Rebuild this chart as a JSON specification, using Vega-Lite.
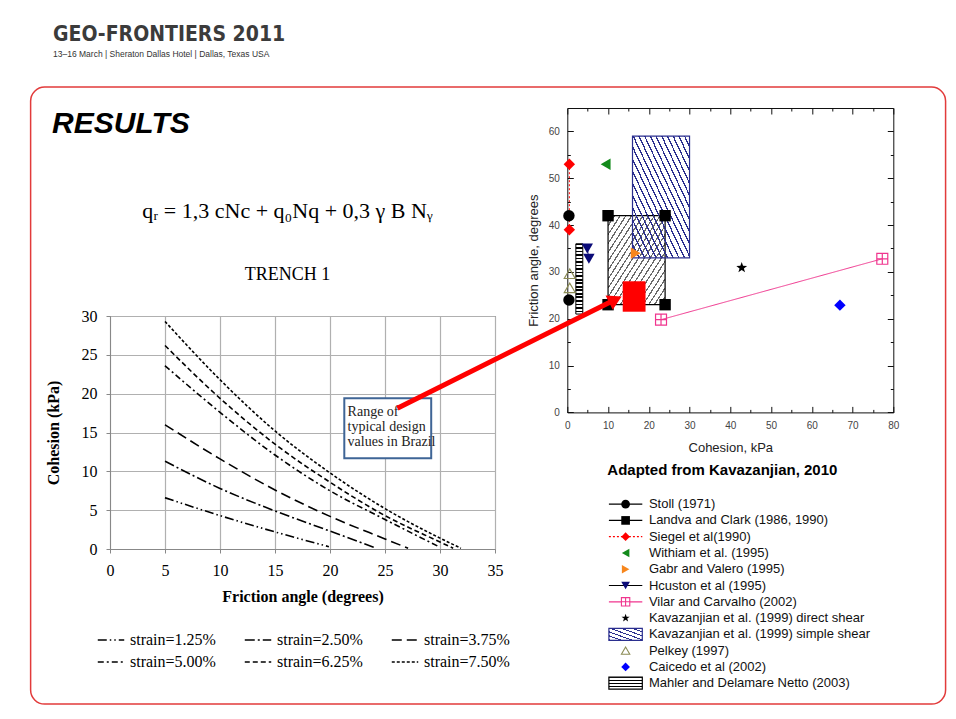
{
  "$schema": "https://vega.github.io/schema/vega-lite/v6.json",
  "background": "white",
  "padding": {"left": 29, "top": 24, "right": 5, "bottom": 5},
  "spacing": -481.7,
  "resolve": {"scale": {"color": "independent", "shape": "independent", "strokeDash": "independent", "fill": "independent", "stroke": "independent"}},
  "title": {
    "text": "GEO-FRONTIERS 2011",
    "subtitle": "13–16 March | Sheraton Dallas Hotel | Dallas, Texas USA",
    "anchor": "start", "frame": "group", "dx": -57, "offset": 27.3,
    "font": "DejaVu Sans Condensed, Liberation Sans", "fontSize": 21, "fontWeight": "bold", "color": "#3b3b3b",
    "subtitleFont": "Liberation Sans", "subtitleFontSize": 8.5, "subtitleColor": "#333333", "subtitlePadding": 5
  },
  "config": {"view": {"stroke": null}, "font": "Liberation Sans"},
  "datasets": {
    "curves": [
      {"strain": "strain=7.50%", "phi": 5, "c": 29.3},
      {"strain": "strain=7.50%", "phi": 10, "c": 21.8},
      {"strain": "strain=7.50%", "phi": 15, "c": 15.2},
      {"strain": "strain=7.50%", "phi": 20, "c": 9.8},
      {"strain": "strain=7.50%", "phi": 25, "c": 5.2},
      {"strain": "strain=7.50%", "phi": 30, "c": 1.4},
      {"strain": "strain=7.50%", "phi": 31.9, "c": 0.1},
      {"strain": "strain=6.25%", "phi": 5, "c": 26.2},
      {"strain": "strain=6.25%", "phi": 10, "c": 19.4},
      {"strain": "strain=6.25%", "phi": 15, "c": 13.5},
      {"strain": "strain=6.25%", "phi": 20, "c": 8.6},
      {"strain": "strain=6.25%", "phi": 25, "c": 4.3},
      {"strain": "strain=6.25%", "phi": 30, "c": 0.9},
      {"strain": "strain=6.25%", "phi": 31.2, "c": 0.1},
      {"strain": "strain=5.00%", "phi": 5, "c": 23.6},
      {"strain": "strain=5.00%", "phi": 10, "c": 17.6},
      {"strain": "strain=5.00%", "phi": 15, "c": 12.1},
      {"strain": "strain=5.00%", "phi": 20, "c": 7.5},
      {"strain": "strain=5.00%", "phi": 25, "c": 3.8},
      {"strain": "strain=5.00%", "phi": 29.9, "c": 0.3},
      {"strain": "strain=3.75%", "phi": 5, "c": 16.0},
      {"strain": "strain=3.75%", "phi": 10, "c": 11.6},
      {"strain": "strain=3.75%", "phi": 15, "c": 7.6},
      {"strain": "strain=3.75%", "phi": 20, "c": 4.2},
      {"strain": "strain=3.75%", "phi": 25, "c": 1.3},
      {"strain": "strain=3.75%", "phi": 27.1, "c": 0.1},
      {"strain": "strain=2.50%", "phi": 5, "c": 11.3},
      {"strain": "strain=2.50%", "phi": 10, "c": 7.8},
      {"strain": "strain=2.50%", "phi": 15, "c": 4.9},
      {"strain": "strain=2.50%", "phi": 20, "c": 2.3},
      {"strain": "strain=2.50%", "phi": 24.2, "c": 0.1},
      {"strain": "strain=1.25%", "phi": 5, "c": 6.6},
      {"strain": "strain=1.25%", "phi": 10, "c": 4.3},
      {"strain": "strain=1.25%", "phi": 15, "c": 2.2},
      {"strain": "strain=1.25%", "phi": 19.9, "c": 0.3}
    ],
    "pts": [
      {"series": "Stoll (1971)", "x": 0.4, "y": 42},
      {"series": "Stoll (1971)", "x": 0.4, "y": 24},
      {"series": "Landva and Clark (1986, 1990)", "x": 10, "y": 42},
      {"series": "Landva and Clark (1986, 1990)", "x": 24, "y": 42},
      {"series": "Landva and Clark (1986, 1990)", "x": 10, "y": 23},
      {"series": "Landva and Clark (1986, 1990)", "x": 24, "y": 23},
      {"series": "Siegel et al(1990)", "x": 0.5, "y": 53},
      {"series": "Siegel et al(1990)", "x": 0.5, "y": 39},
      {"series": "Withiam et al. (1995)", "x": 9.4, "y": 53},
      {"series": "Gabr and Valero (1995)", "x": 16.8, "y": 34},
      {"series": "Hcuston et al (1995)", "x": 4.9, "y": 35},
      {"series": "Hcuston et al (1995)", "x": 5.3, "y": 32.8},
      {"series": "Vilar and Carvalho (2002)", "x": 23, "y": 19.8},
      {"series": "Vilar and Carvalho (2002)", "x": 77.3, "y": 32.8},
      {"series": "Kavazanjian et al. (1999) direct shear", "x": 42.8, "y": 30.9},
      {"series": "Pelkey (1997)", "x": 0.6, "y": 29.6},
      {"series": "Pelkey (1997)", "x": 0.6, "y": 26.6},
      {"series": "Caicedo et al (2002)", "x": 66.9, "y": 22.9}
    ],
    "legend": [
      {"series": "Stoll (1971)"},
      {"series": "Landva and Clark (1986, 1990)"},
      {"series": "Siegel et al(1990)"},
      {"series": "Withiam et al. (1995)"},
      {"series": "Gabr and Valero (1995)"},
      {"series": "Hcuston et al (1995)"},
      {"series": "Vilar and Carvalho (2002)"},
      {"series": "Kavazanjian et al. (1999) direct shear"},
      {"series": "Kavazanjian et al. (1999) simple shear"},
      {"series": "Pelkey (1997)"},
      {"series": "Caicedo et al (2002)"},
      {"series": "Mahler and Delamare Netto (2003)"}
    ]
  },
  "hconcat": [
    {
      "bounds": "flush",
      "spacing": 207,
      "resolve": {"scale": {"color": "independent", "shape": "independent", "strokeDash": "independent", "fill": "independent", "stroke": "independent"}},
      "vconcat": [
        {
          "width": 385, "height": 1,
          "title": {"text": "RESULTS", "orient": "bottom", "anchor": "start", "frame": "group", "dx": -58, "offset": 0, "font": "Liberation Sans", "fontSize": 30, "fontWeight": "bold", "fontStyle": "italic", "color": "#000000"},
          "data": {"values": []},
          "mark": "point",
          "encoding": {}
        },
        {
          "width": 385, "height": 233,
          "view": {"stroke": "#555555", "strokeWidth": 1},
          "resolve": {"axis": {"x": "independent", "y": "independent"}},
          "title": {
            "text": "qᵣ = 1,3 cNc + q₀Nq + 0,3 γ B Nᵧ", "subtitle": "TRENCH 1",
            "anchor": "middle", "frame": "group", "dx": -15, "offset": 23,
            "font": "Liberation Serif", "fontSize": 22, "fontWeight": "normal", "color": "#000000",
            "subtitleFont": "Liberation Serif", "subtitleFontSize": 18, "subtitleColor": "#000000", "subtitlePadding": 43
          },
          "layer": [
            {
              "data": {"name": "curves"},
              "mark": {"type": "line", "color": "#000000", "strokeWidth": 1.6, "interpolate": "monotone"},
              "encoding": {
                "x": {"field": "phi", "type": "quantitative", "title": "Friction angle (degrees)",
                  "scale": {"domain": [0, 35], "nice": false},
                  "axis": {"values": [0, 5, 10, 15, 20, 25, 30, 35], "title": "Friction angle (degrees)", "titleFont": "Liberation Serif", "titleFontSize": 16, "titleFontWeight": "bold", "titleColor": "#000000", "titlePadding": 10, "labelFont": "Liberation Serif", "labelFontSize": 16, "labelColor": "#000000", "labelPadding": 9, "labelFlush": false, "labelOverlap": false, "tickSize": 4, "tickColor": "#888888", "domainColor": "#888888", "grid": true, "gridColor": "#b0b0b0", "gridWidth": 1.2}},
                "y": {"field": "c", "type": "quantitative", "title": "Cohesion (kPa)",
                  "scale": {"domain": [0, 30], "nice": false},
                  "axis": {"values": [0, 5, 10, 15, 20, 25, 30], "title": "Cohesion (kPa)", "titleFont": "Liberation Serif", "titleFontSize": 16, "titleFontWeight": "bold", "titleColor": "#000000", "titlePadding": 20, "labelFont": "Liberation Serif", "labelFontSize": 16, "labelColor": "#000000", "labelPadding": 9, "labelFlush": false, "labelOverlap": false, "tickSize": 4, "tickColor": "#888888", "domainColor": "#888888", "grid": true, "gridColor": "#b0b0b0", "gridWidth": 1.2}},
                "strokeDash": {"field": "strain", "type": "nominal",
                  "scale": {"domain": ["strain=1.25%", "strain=2.50%", "strain=3.75%", "strain=5.00%", "strain=6.25%", "strain=7.50%"],
                    "range": [[9, 3, 1.5, 3, 1.5, 3], [10, 3, 2, 3], [10, 5], [6, 3, 2, 3], [5, 3], [3, 2]]},
                  "legend": {"orient": "none", "legendX": -13, "legendY": 310, "direction": "horizontal", "columns": 3, "title": null, "symbolType": "stroke", "symbolSize": 700, "symbolStrokeWidth": 1.5, "symbolStrokeColor": "#000000", "labelFont": "Liberation Serif", "labelFontSize": 16, "labelColor": "#000000", "labelOffset": 5, "columnPadding": 25, "rowPadding": 0}}
              }
            },
            {
              "data": {"values": [{"label": "Range of typical design values in Brazil", "x": 21.3, "x2": 29.2, "y": 19.4, "y2": 11.7}]},
              "mark": {"type": "rect", "fill": "#ffffff", "stroke": "#3f6596", "strokeWidth": 2},
              "encoding": {
                "x": {"field": "x", "type": "quantitative", "axis": null},
                "x2": {"field": "x2"},
                "y": {"field": "y", "type": "quantitative", "axis": null},
                "y2": {"field": "y2"}
              }
            },
            {
              "data": {"values": [{"label": "Range of\ntypical design\nvalues in Brazil", "x": 21.6, "y": 18.5}]},
              "mark": {"type": "text", "align": "left", "baseline": "top", "lineBreak": "\n", "font": "Liberation Serif", "fontSize": 14, "lineHeight": 15, "color": "#222222"},
              "encoding": {
                "x": {"field": "x", "type": "quantitative", "axis": null},
                "y": {"field": "y", "type": "quantitative", "axis": null},
                "text": {"field": "label"}
              }
            }
          ]
        }
      ]
    },
    {
      "bounds": "flush",
      "spacing": 83,
      "resolve": {"scale": {"color": "independent", "shape": "independent", "strokeDash": "independent", "fill": "independent", "stroke": "independent"}},
      "vconcat": [
        {
          "width": 326, "height": 304.4,
          "view": {"stroke": "#111111", "strokeWidth": 1},
          "resolve": {"axis": {"x": "independent", "y": "independent"}},
          "layer": [
            {
              "data": {"values": [{"label": "slide frame", "x": -131.7, "x2": 92.83, "y": 69.46, "y2": -62.29}]},
              "mark": {"type": "rect", "fill": null, "stroke": "#e23b3b", "strokeWidth": 1.5, "cornerRadius": 14},
              "encoding": {
                "x": {"field": "x", "type": "quantitative", "scale": {"domain": [0, 80], "nice": false},
                  "axis": {"orient": "top", "values": [0, 5, 10, 15, 20, 25, 30, 35, 40, 45, 50, 55, 60, 65, 70, 75, 80], "labels": false, "domain": false, "grid": false, "tickSize": {"condition": {"test": "datum.value % 10 === 0", "value": -6}, "value": -3}, "tickColor": "#111111", "title": null}},
                "x2": {"field": "x2"},
                "y": {"field": "y", "type": "quantitative", "scale": {"domain": [0, 65], "nice": false},
                  "axis": {"orient": "right", "values": [0, 5, 10, 15, 20, 25, 30, 35, 40, 45, 50, 55, 60], "labels": false, "domain": false, "grid": false, "tickSize": {"condition": {"test": "datum.value % 10 === 0", "value": -6}, "value": -3}, "tickColor": "#111111", "title": null}},
                "y2": {"field": "y2"}
              }
            },
            {
              "data": {"values": [{"series": "Landva and Clark (1986, 1990)", "x": 10, "x2": 24, "y": 23, "y2": 42}]},
              "mark": {"type": "rect", "stroke": "#000000", "strokeWidth": 1.2, "fill": {"gradient": "linear", "x1": 0, "y1": 0, "x2": 1, "y2": 1, "stops": [
                {"offset": 0, "color": "#6a6a6a"}, {"offset": 0.0125, "color": "#6a6a6a"}, {"offset": 0.0125, "color": "rgba(255,255,255,0)"}, {"offset": 0.05, "color": "rgba(255,255,255,0)"},
                {"offset": 0.05, "color": "#6a6a6a"}, {"offset": 0.0625, "color": "#6a6a6a"}, {"offset": 0.0625, "color": "rgba(255,255,255,0)"}, {"offset": 0.1, "color": "rgba(255,255,255,0)"},
                {"offset": 0.1, "color": "#6a6a6a"}, {"offset": 0.1125, "color": "#6a6a6a"}, {"offset": 0.1125, "color": "rgba(255,255,255,0)"}, {"offset": 0.15, "color": "rgba(255,255,255,0)"},
                {"offset": 0.15, "color": "#6a6a6a"}, {"offset": 0.1625, "color": "#6a6a6a"}, {"offset": 0.1625, "color": "rgba(255,255,255,0)"}, {"offset": 0.2, "color": "rgba(255,255,255,0)"},
                {"offset": 0.2, "color": "#6a6a6a"}, {"offset": 0.2125, "color": "#6a6a6a"}, {"offset": 0.2125, "color": "rgba(255,255,255,0)"}, {"offset": 0.25, "color": "rgba(255,255,255,0)"},
                {"offset": 0.25, "color": "#6a6a6a"}, {"offset": 0.2625, "color": "#6a6a6a"}, {"offset": 0.2625, "color": "rgba(255,255,255,0)"}, {"offset": 0.3, "color": "rgba(255,255,255,0)"},
                {"offset": 0.3, "color": "#6a6a6a"}, {"offset": 0.3125, "color": "#6a6a6a"}, {"offset": 0.3125, "color": "rgba(255,255,255,0)"}, {"offset": 0.35, "color": "rgba(255,255,255,0)"},
                {"offset": 0.35, "color": "#6a6a6a"}, {"offset": 0.3625, "color": "#6a6a6a"}, {"offset": 0.3625, "color": "rgba(255,255,255,0)"}, {"offset": 0.4, "color": "rgba(255,255,255,0)"},
                {"offset": 0.4, "color": "#6a6a6a"}, {"offset": 0.4125, "color": "#6a6a6a"}, {"offset": 0.4125, "color": "rgba(255,255,255,0)"}, {"offset": 0.45, "color": "rgba(255,255,255,0)"},
                {"offset": 0.45, "color": "#6a6a6a"}, {"offset": 0.4625, "color": "#6a6a6a"}, {"offset": 0.4625, "color": "rgba(255,255,255,0)"}, {"offset": 0.5, "color": "rgba(255,255,255,0)"},
                {"offset": 0.5, "color": "#6a6a6a"}, {"offset": 0.5125, "color": "#6a6a6a"}, {"offset": 0.5125, "color": "rgba(255,255,255,0)"}, {"offset": 0.55, "color": "rgba(255,255,255,0)"},
                {"offset": 0.55, "color": "#6a6a6a"}, {"offset": 0.5625, "color": "#6a6a6a"}, {"offset": 0.5625, "color": "rgba(255,255,255,0)"}, {"offset": 0.6, "color": "rgba(255,255,255,0)"},
                {"offset": 0.6, "color": "#6a6a6a"}, {"offset": 0.6125, "color": "#6a6a6a"}, {"offset": 0.6125, "color": "rgba(255,255,255,0)"}, {"offset": 0.65, "color": "rgba(255,255,255,0)"},
                {"offset": 0.65, "color": "#6a6a6a"}, {"offset": 0.6625, "color": "#6a6a6a"}, {"offset": 0.6625, "color": "rgba(255,255,255,0)"}, {"offset": 0.7, "color": "rgba(255,255,255,0)"},
                {"offset": 0.7, "color": "#6a6a6a"}, {"offset": 0.7125, "color": "#6a6a6a"}, {"offset": 0.7125, "color": "rgba(255,255,255,0)"}, {"offset": 0.75, "color": "rgba(255,255,255,0)"},
                {"offset": 0.75, "color": "#6a6a6a"}, {"offset": 0.7625, "color": "#6a6a6a"}, {"offset": 0.7625, "color": "rgba(255,255,255,0)"}, {"offset": 0.8, "color": "rgba(255,255,255,0)"},
                {"offset": 0.8, "color": "#6a6a6a"}, {"offset": 0.8125, "color": "#6a6a6a"}, {"offset": 0.8125, "color": "rgba(255,255,255,0)"}, {"offset": 0.85, "color": "rgba(255,255,255,0)"},
                {"offset": 0.85, "color": "#6a6a6a"}, {"offset": 0.8625, "color": "#6a6a6a"}, {"offset": 0.8625, "color": "rgba(255,255,255,0)"}, {"offset": 0.9, "color": "rgba(255,255,255,0)"},
                {"offset": 0.9, "color": "#6a6a6a"}, {"offset": 0.9125, "color": "#6a6a6a"}, {"offset": 0.9125, "color": "rgba(255,255,255,0)"}, {"offset": 0.95, "color": "rgba(255,255,255,0)"},
                {"offset": 0.95, "color": "#6a6a6a"}, {"offset": 0.9625, "color": "#6a6a6a"}, {"offset": 0.9625, "color": "rgba(255,255,255,0)"}, {"offset": 1, "color": "rgba(255,255,255,0)"}
              ]}},
              "encoding": {
                "x": {"field": "x", "type": "quantitative", "axis": null},
                "x2": {"field": "x2"},
                "y": {"field": "y", "type": "quantitative", "axis": null},
                "y2": {"field": "y2"}
              }
            },
            {
              "data": {"values": [{"series": "Kavazanjian et al. (1999) simple shear", "x": 16, "x2": 30, "y": 33, "y2": 59}]},
              "mark": {"type": "rect", "stroke": "#2b2f8f", "strokeWidth": 1.2, "fill": {"gradient": "linear", "x1": 0, "y1": 1, "x2": 1, "y2": 0, "stops": [
                {"offset": 0, "color": "#2b2f8f"}, {"offset": 0.0125, "color": "#2b2f8f"}, {"offset": 0.0125, "color": "rgba(255,255,255,0)"}, {"offset": 0.05, "color": "rgba(255,255,255,0)"},
                {"offset": 0.05, "color": "#2b2f8f"}, {"offset": 0.0625, "color": "#2b2f8f"}, {"offset": 0.0625, "color": "rgba(255,255,255,0)"}, {"offset": 0.1, "color": "rgba(255,255,255,0)"},
                {"offset": 0.1, "color": "#2b2f8f"}, {"offset": 0.1125, "color": "#2b2f8f"}, {"offset": 0.1125, "color": "rgba(255,255,255,0)"}, {"offset": 0.15, "color": "rgba(255,255,255,0)"},
                {"offset": 0.15, "color": "#2b2f8f"}, {"offset": 0.1625, "color": "#2b2f8f"}, {"offset": 0.1625, "color": "rgba(255,255,255,0)"}, {"offset": 0.2, "color": "rgba(255,255,255,0)"},
                {"offset": 0.2, "color": "#2b2f8f"}, {"offset": 0.2125, "color": "#2b2f8f"}, {"offset": 0.2125, "color": "rgba(255,255,255,0)"}, {"offset": 0.25, "color": "rgba(255,255,255,0)"},
                {"offset": 0.25, "color": "#2b2f8f"}, {"offset": 0.2625, "color": "#2b2f8f"}, {"offset": 0.2625, "color": "rgba(255,255,255,0)"}, {"offset": 0.3, "color": "rgba(255,255,255,0)"},
                {"offset": 0.3, "color": "#2b2f8f"}, {"offset": 0.3125, "color": "#2b2f8f"}, {"offset": 0.3125, "color": "rgba(255,255,255,0)"}, {"offset": 0.35, "color": "rgba(255,255,255,0)"},
                {"offset": 0.35, "color": "#2b2f8f"}, {"offset": 0.3625, "color": "#2b2f8f"}, {"offset": 0.3625, "color": "rgba(255,255,255,0)"}, {"offset": 0.4, "color": "rgba(255,255,255,0)"},
                {"offset": 0.4, "color": "#2b2f8f"}, {"offset": 0.4125, "color": "#2b2f8f"}, {"offset": 0.4125, "color": "rgba(255,255,255,0)"}, {"offset": 0.45, "color": "rgba(255,255,255,0)"},
                {"offset": 0.45, "color": "#2b2f8f"}, {"offset": 0.4625, "color": "#2b2f8f"}, {"offset": 0.4625, "color": "rgba(255,255,255,0)"}, {"offset": 0.5, "color": "rgba(255,255,255,0)"},
                {"offset": 0.5, "color": "#2b2f8f"}, {"offset": 0.5125, "color": "#2b2f8f"}, {"offset": 0.5125, "color": "rgba(255,255,255,0)"}, {"offset": 0.55, "color": "rgba(255,255,255,0)"},
                {"offset": 0.55, "color": "#2b2f8f"}, {"offset": 0.5625, "color": "#2b2f8f"}, {"offset": 0.5625, "color": "rgba(255,255,255,0)"}, {"offset": 0.6, "color": "rgba(255,255,255,0)"},
                {"offset": 0.6, "color": "#2b2f8f"}, {"offset": 0.6125, "color": "#2b2f8f"}, {"offset": 0.6125, "color": "rgba(255,255,255,0)"}, {"offset": 0.65, "color": "rgba(255,255,255,0)"},
                {"offset": 0.65, "color": "#2b2f8f"}, {"offset": 0.6625, "color": "#2b2f8f"}, {"offset": 0.6625, "color": "rgba(255,255,255,0)"}, {"offset": 0.7, "color": "rgba(255,255,255,0)"},
                {"offset": 0.7, "color": "#2b2f8f"}, {"offset": 0.7125, "color": "#2b2f8f"}, {"offset": 0.7125, "color": "rgba(255,255,255,0)"}, {"offset": 0.75, "color": "rgba(255,255,255,0)"},
                {"offset": 0.75, "color": "#2b2f8f"}, {"offset": 0.7625, "color": "#2b2f8f"}, {"offset": 0.7625, "color": "rgba(255,255,255,0)"}, {"offset": 0.8, "color": "rgba(255,255,255,0)"},
                {"offset": 0.8, "color": "#2b2f8f"}, {"offset": 0.8125, "color": "#2b2f8f"}, {"offset": 0.8125, "color": "rgba(255,255,255,0)"}, {"offset": 0.85, "color": "rgba(255,255,255,0)"},
                {"offset": 0.85, "color": "#2b2f8f"}, {"offset": 0.8625, "color": "#2b2f8f"}, {"offset": 0.8625, "color": "rgba(255,255,255,0)"}, {"offset": 0.9, "color": "rgba(255,255,255,0)"},
                {"offset": 0.9, "color": "#2b2f8f"}, {"offset": 0.9125, "color": "#2b2f8f"}, {"offset": 0.9125, "color": "rgba(255,255,255,0)"}, {"offset": 0.95, "color": "rgba(255,255,255,0)"},
                {"offset": 0.95, "color": "#2b2f8f"}, {"offset": 0.9625, "color": "#2b2f8f"}, {"offset": 0.9625, "color": "rgba(255,255,255,0)"}, {"offset": 1, "color": "rgba(255,255,255,0)"}
              ]}},
              "encoding": {
                "x": {"field": "x", "type": "quantitative", "axis": null},
                "x2": {"field": "x2"},
                "y": {"field": "y", "type": "quantitative", "axis": null},
                "y2": {"field": "y2"}
              }
            },
            {
              "data": {"values": [{"series": "Mahler and Delamare Netto (2003)", "x": 2.1, "x2": 3.8, "y": 21, "y2": 36}]},
              "mark": {"type": "rect", "stroke": "#000000", "strokeWidth": 1, "fill": {"gradient": "linear", "x1": 0, "y1": 0, "x2": 0, "y2": 1, "stops": [
                {"offset": 0, "color": "#000000"}, {"offset": 0.0225, "color": "#000000"}, {"offset": 0.0225, "color": "#ffffff"}, {"offset": 0.05, "color": "#ffffff"},
                {"offset": 0.05, "color": "#000000"}, {"offset": 0.0725, "color": "#000000"}, {"offset": 0.0725, "color": "#ffffff"}, {"offset": 0.1, "color": "#ffffff"},
                {"offset": 0.1, "color": "#000000"}, {"offset": 0.1225, "color": "#000000"}, {"offset": 0.1225, "color": "#ffffff"}, {"offset": 0.15, "color": "#ffffff"},
                {"offset": 0.15, "color": "#000000"}, {"offset": 0.1725, "color": "#000000"}, {"offset": 0.1725, "color": "#ffffff"}, {"offset": 0.2, "color": "#ffffff"},
                {"offset": 0.2, "color": "#000000"}, {"offset": 0.2225, "color": "#000000"}, {"offset": 0.2225, "color": "#ffffff"}, {"offset": 0.25, "color": "#ffffff"},
                {"offset": 0.25, "color": "#000000"}, {"offset": 0.2725, "color": "#000000"}, {"offset": 0.2725, "color": "#ffffff"}, {"offset": 0.3, "color": "#ffffff"},
                {"offset": 0.3, "color": "#000000"}, {"offset": 0.3225, "color": "#000000"}, {"offset": 0.3225, "color": "#ffffff"}, {"offset": 0.35, "color": "#ffffff"},
                {"offset": 0.35, "color": "#000000"}, {"offset": 0.3725, "color": "#000000"}, {"offset": 0.3725, "color": "#ffffff"}, {"offset": 0.4, "color": "#ffffff"},
                {"offset": 0.4, "color": "#000000"}, {"offset": 0.4225, "color": "#000000"}, {"offset": 0.4225, "color": "#ffffff"}, {"offset": 0.45, "color": "#ffffff"},
                {"offset": 0.45, "color": "#000000"}, {"offset": 0.4725, "color": "#000000"}, {"offset": 0.4725, "color": "#ffffff"}, {"offset": 0.5, "color": "#ffffff"},
                {"offset": 0.5, "color": "#000000"}, {"offset": 0.5225, "color": "#000000"}, {"offset": 0.5225, "color": "#ffffff"}, {"offset": 0.55, "color": "#ffffff"},
                {"offset": 0.55, "color": "#000000"}, {"offset": 0.5725, "color": "#000000"}, {"offset": 0.5725, "color": "#ffffff"}, {"offset": 0.6, "color": "#ffffff"},
                {"offset": 0.6, "color": "#000000"}, {"offset": 0.6225, "color": "#000000"}, {"offset": 0.6225, "color": "#ffffff"}, {"offset": 0.65, "color": "#ffffff"},
                {"offset": 0.65, "color": "#000000"}, {"offset": 0.6725, "color": "#000000"}, {"offset": 0.6725, "color": "#ffffff"}, {"offset": 0.7, "color": "#ffffff"},
                {"offset": 0.7, "color": "#000000"}, {"offset": 0.7225, "color": "#000000"}, {"offset": 0.7225, "color": "#ffffff"}, {"offset": 0.75, "color": "#ffffff"},
                {"offset": 0.75, "color": "#000000"}, {"offset": 0.7725, "color": "#000000"}, {"offset": 0.7725, "color": "#ffffff"}, {"offset": 0.8, "color": "#ffffff"},
                {"offset": 0.8, "color": "#000000"}, {"offset": 0.8225, "color": "#000000"}, {"offset": 0.8225, "color": "#ffffff"}, {"offset": 0.85, "color": "#ffffff"},
                {"offset": 0.85, "color": "#000000"}, {"offset": 0.8725, "color": "#000000"}, {"offset": 0.8725, "color": "#ffffff"}, {"offset": 0.9, "color": "#ffffff"},
                {"offset": 0.9, "color": "#000000"}, {"offset": 0.9225, "color": "#000000"}, {"offset": 0.9225, "color": "#ffffff"}, {"offset": 0.95, "color": "#ffffff"},
                {"offset": 0.95, "color": "#000000"}, {"offset": 0.9725, "color": "#000000"}, {"offset": 0.9725, "color": "#ffffff"}, {"offset": 1, "color": "#ffffff"}
              ]}},
              "encoding": {
                "x": {"field": "x", "type": "quantitative", "axis": null},
                "x2": {"field": "x2"},
                "y": {"field": "y", "type": "quantitative", "axis": null},
                "y2": {"field": "y2"}
              }
            },
            {
              "data": {"name": "pts"},
              "transform": [{"filter": {"field": "series", "oneOf": ["Siegel et al(1990)", "Hcuston et al (1995)", "Vilar and Carvalho (2002)"]}}],
              "mark": {"type": "line", "strokeWidth": 1},
              "encoding": {
                "x": {"field": "x", "type": "quantitative", "axis": null},
                "y": {"field": "y", "type": "quantitative", "axis": null},
                "color": {"field": "series", "type": "nominal", "legend": null,
                  "scale": {"domain": ["Stoll (1971)", "Landva and Clark (1986, 1990)", "Siegel et al(1990)", "Withiam et al. (1995)", "Gabr and Valero (1995)", "Hcuston et al (1995)", "Vilar and Carvalho (2002)", "Kavazanjian et al. (1999) direct shear", "Kavazanjian et al. (1999) simple shear", "Pelkey (1997)", "Caicedo et al (2002)", "Mahler and Delamare Netto (2003)"],
                    "range": ["#000000", "#000000", "#ff0000", "#138a1b", "#f7861c", "#0b0b78", "#f0358e", "#000000", "#2b2f8f", "#8c8c55", "#0000ff", "#000000"]}},
                "strokeDash": {"field": "series", "type": "nominal", "legend": null,
                  "scale": {"domain": ["Siegel et al(1990)", "Hcuston et al (1995)", "Vilar and Carvalho (2002)"], "range": [[2, 2], [1, 0], [1, 0]]}}
              }
            },
            {
              "data": {"name": "pts"},
              "transform": [{"filter": {"field": "series", "oneOf": ["Stoll (1971)", "Landva and Clark (1986, 1990)", "Siegel et al(1990)", "Withiam et al. (1995)", "Gabr and Valero (1995)", "Hcuston et al (1995)", "Kavazanjian et al. (1999) direct shear", "Caicedo et al (2002)"]}}],
              "mark": {"type": "point", "filled": true, "size": 130, "opacity": 1, "strokeWidth": 0},
              "encoding": {
                "x": {"field": "x", "type": "quantitative", "scale": {"domain": [0, 80], "nice": false},
                  "axis": {"orient": "bottom", "values": [0, 5, 10, 15, 20, 25, 30, 35, 40, 45, 50, 55, 60, 65, 70, 75, 80], "labelExpr": "datum.value % 10 === 0 ? datum.label : ''", "domain": false, "grid": false, "tickSize": {"condition": {"test": "datum.value % 10 === 0", "value": -6}, "value": -3}, "tickColor": "#111111", "labelFont": "Liberation Sans", "labelFontSize": 10, "labelColor": "#444444", "labelPadding": 14, "labelFlush": false, "labelOverlap": false, "title": "Cohesion, kPa", "titleFont": "Liberation Sans", "titleFontSize": 13, "titleFontWeight": "normal", "titleColor": "#222222", "titlePadding": 8}},
                "y": {"field": "y", "type": "quantitative", "scale": {"domain": [0, 65], "nice": false},
                  "axis": {"orient": "left", "values": [0, 5, 10, 15, 20, 25, 30, 35, 40, 45, 50, 55, 60], "labelExpr": "datum.value % 10 === 0 ? datum.label : ''", "domain": false, "grid": false, "tickSize": {"condition": {"test": "datum.value % 10 === 0", "value": -6}, "value": -3}, "tickColor": "#111111", "labelFont": "Liberation Sans", "labelFontSize": 10, "labelColor": "#444444", "labelPadding": 14, "labelFlush": false, "labelOverlap": false, "title": "Friction angle, degrees", "titleFont": "Liberation Sans", "titleFontSize": 13, "titleFontWeight": "normal", "titleColor": "#222222", "titlePadding": 8}},
                "color": {"field": "series", "type": "nominal", "legend": null},
                "shape": {"field": "series", "type": "nominal", "legend": null,
                  "scale": {"domain": ["Stoll (1971)", "Landva and Clark (1986, 1990)", "Siegel et al(1990)", "Withiam et al. (1995)", "Gabr and Valero (1995)", "Hcuston et al (1995)", "Vilar and Carvalho (2002)", "Kavazanjian et al. (1999) direct shear", "Kavazanjian et al. (1999) simple shear", "Pelkey (1997)", "Caicedo et al (2002)", "Mahler and Delamare Netto (2003)"],
                    "range": ["circle", "square", "diamond", "triangle-left", "triangle-right", "triangle-down", "M-1,-1L1,-1L1,1L-1,1Z M0,-1L0,1 M-1,0L1,0", "M0,-1L0.235,-0.324L0.951,-0.309L0.38,0.124L0.588,0.809L0,0.4L-0.588,0.809L-0.38,0.124L-0.951,-0.309L-0.235,-0.324Z", "square", "triangle-up", "diamond", "square"]}}
              }
            },
            {
              "data": {"name": "pts"},
              "transform": [{"filter": {"field": "series", "oneOf": ["Vilar and Carvalho (2002)", "Pelkey (1997)"]}}],
              "mark": {"type": "point", "filled": false, "size": 120, "opacity": 1, "strokeWidth": 1.2},
              "encoding": {
                "x": {"field": "x", "type": "quantitative", "axis": null},
                "y": {"field": "y", "type": "quantitative", "axis": null},
                "color": {"field": "series", "type": "nominal", "legend": null},
                "shape": {"field": "series", "type": "nominal", "legend": null}
              }
            },
            {
              "data": {"values": [{"label": "Range of typical design values in Brazil", "x": 13.6, "x2": 19.2, "y": 21.5, "y2": 28}]},
              "mark": {"type": "rect", "fill": "#ff0000"},
              "encoding": {
                "x": {"field": "x", "type": "quantitative", "axis": null},
                "x2": {"field": "x2"},
                "y": {"field": "y", "type": "quantitative", "axis": null},
                "y2": {"field": "y2"}
              }
            },
            {
              "data": {"values": [{"x": -41.7, "y": 0.9, "x2": 11.8, "y2": 24.1}]},
              "mark": {"type": "rule", "color": "#ff0000", "strokeWidth": 5},
              "encoding": {
                "x": {"field": "x", "type": "quantitative", "axis": null},
                "x2": {"field": "x2"},
                "y": {"field": "y", "type": "quantitative", "axis": null},
                "y2": {"field": "y2"}
              }
            },
            {
              "data": {"values": [{"x": 11.8, "y": 24.1}]},
              "mark": {"type": "point", "shape": "triangle-right", "filled": true, "color": "#ff0000", "size": 260, "angle": 333.4, "opacity": 1},
              "encoding": {
                "x": {"field": "x", "type": "quantitative", "axis": null},
                "y": {"field": "y", "type": "quantitative", "axis": null}
              }
            }
          ]
        },
        {
          "width": 300, "height": 195.3,
          "view": {"stroke": null},
          "title": {"text": "Adapted from Kavazanjian, 2010", "anchor": "start", "frame": "group", "dx": 40, "offset": 18, "font": "Liberation Sans", "fontSize": 15, "fontWeight": "bold", "color": "#000000"},
          "data": {"name": "legend"},
          "encoding": {
            "y": {"field": "series", "type": "nominal", "axis": null,
              "sort": ["Stoll (1971)", "Landva and Clark (1986, 1990)", "Siegel et al(1990)", "Withiam et al. (1995)", "Gabr and Valero (1995)", "Hcuston et al (1995)", "Vilar and Carvalho (2002)", "Kavazanjian et al. (1999) direct shear", "Kavazanjian et al. (1999) simple shear", "Pelkey (1997)", "Caicedo et al (2002)", "Mahler and Delamare Netto (2003)"],
              "scale": {"type": "band", "paddingInner": 0, "paddingOuter": 0}}
          },
          "layer": [
            {
              "transform": [{"filter": {"field": "series", "oneOf": ["Stoll (1971)", "Landva and Clark (1986, 1990)", "Siegel et al(1990)", "Hcuston et al (1995)", "Vilar and Carvalho (2002)"]}}],
              "mark": {"type": "rule", "strokeWidth": 1.2},
              "encoding": {
                "x": {"datum": 41.6, "type": "quantitative", "scale": {"domain": [0, 300], "nice": false}, "axis": null},
                "x2": {"datum": 75},
                "color": {"field": "series", "type": "nominal", "legend": null,
                  "scale": {"domain": ["Stoll (1971)", "Landva and Clark (1986, 1990)", "Siegel et al(1990)", "Withiam et al. (1995)", "Gabr and Valero (1995)", "Hcuston et al (1995)", "Vilar and Carvalho (2002)", "Kavazanjian et al. (1999) direct shear", "Kavazanjian et al. (1999) simple shear", "Pelkey (1997)", "Caicedo et al (2002)", "Mahler and Delamare Netto (2003)"],
                    "range": ["#000000", "#000000", "#ff0000", "#138a1b", "#f7861c", "#000000", "#f0358e", "#000000", "#2b2f8f", "#8c8c55", "#0000ff", "#000000"]}},
                "strokeDash": {"field": "series", "type": "nominal", "legend": null,
                  "scale": {"domain": ["Stoll (1971)", "Landva and Clark (1986, 1990)", "Siegel et al(1990)", "Hcuston et al (1995)", "Vilar and Carvalho (2002)"], "range": [[1, 0], [1, 0], [2, 2], [1, 0], [1, 0]]}}
              }
            },
            {
              "transform": [{"filter": {"field": "series", "equal": "Kavazanjian et al. (1999) simple shear"}}],
              "mark": {"type": "bar", "size": 12, "stroke": "#2b2f8f", "strokeWidth": 1.2, "fill": {"gradient": "linear", "x1": 0, "y1": 1, "x2": 1, "y2": 0, "stops": [
                {"offset": 0, "color": "#2b2f8f"}, {"offset": 0.045, "color": "#2b2f8f"}, {"offset": 0.045, "color": "#ffffff"}, {"offset": 0.1667, "color": "#ffffff"},
                {"offset": 0.1667, "color": "#2b2f8f"}, {"offset": 0.2117, "color": "#2b2f8f"}, {"offset": 0.2117, "color": "#ffffff"}, {"offset": 0.3333, "color": "#ffffff"},
                {"offset": 0.3333, "color": "#2b2f8f"}, {"offset": 0.3783, "color": "#2b2f8f"}, {"offset": 0.3783, "color": "#ffffff"}, {"offset": 0.5, "color": "#ffffff"},
                {"offset": 0.5, "color": "#2b2f8f"}, {"offset": 0.545, "color": "#2b2f8f"}, {"offset": 0.545, "color": "#ffffff"}, {"offset": 0.6667, "color": "#ffffff"},
                {"offset": 0.6667, "color": "#2b2f8f"}, {"offset": 0.7117, "color": "#2b2f8f"}, {"offset": 0.7117, "color": "#ffffff"}, {"offset": 0.8333, "color": "#ffffff"},
                {"offset": 0.8333, "color": "#2b2f8f"}, {"offset": 0.8783, "color": "#2b2f8f"}, {"offset": 0.8783, "color": "#ffffff"}, {"offset": 1, "color": "#ffffff"}
              ]}},
              "encoding": {
                "x": {"datum": 41.6, "type": "quantitative"},
                "x2": {"datum": 75}
              }
            },
            {
              "transform": [{"filter": {"field": "series", "equal": "Mahler and Delamare Netto (2003)"}}],
              "mark": {"type": "bar", "size": 12, "stroke": "#000000", "strokeWidth": 1.2, "fill": {"gradient": "linear", "x1": 0, "y1": 0, "x2": 0, "y2": 1, "stops": [
                {"offset": 0, "color": "#000000"}, {"offset": 0.075, "color": "#000000"}, {"offset": 0.075, "color": "#ffffff"}, {"offset": 0.25, "color": "#ffffff"},
                {"offset": 0.25, "color": "#000000"}, {"offset": 0.325, "color": "#000000"}, {"offset": 0.325, "color": "#ffffff"}, {"offset": 0.5, "color": "#ffffff"},
                {"offset": 0.5, "color": "#000000"}, {"offset": 0.575, "color": "#000000"}, {"offset": 0.575, "color": "#ffffff"}, {"offset": 0.75, "color": "#ffffff"},
                {"offset": 0.75, "color": "#000000"}, {"offset": 0.825, "color": "#000000"}, {"offset": 0.825, "color": "#ffffff"}, {"offset": 1, "color": "#ffffff"}
              ]}},
              "encoding": {
                "x": {"datum": 41.6, "type": "quantitative"},
                "x2": {"datum": 75}
              }
            },
            {
              "transform": [{"filter": {"field": "series", "oneOf": ["Stoll (1971)", "Landva and Clark (1986, 1990)", "Siegel et al(1990)", "Withiam et al. (1995)", "Gabr and Valero (1995)", "Hcuston et al (1995)", "Kavazanjian et al. (1999) direct shear", "Caicedo et al (2002)"]}}],
              "mark": {"type": "point", "filled": true, "size": 75, "opacity": 1, "strokeWidth": 0},
              "encoding": {
                "x": {"datum": 58.3, "type": "quantitative"},
                "fill": {"field": "series", "type": "nominal", "legend": null,
                  "scale": {"domain": ["Stoll (1971)", "Landva and Clark (1986, 1990)", "Siegel et al(1990)", "Withiam et al. (1995)", "Gabr and Valero (1995)", "Hcuston et al (1995)", "Vilar and Carvalho (2002)", "Kavazanjian et al. (1999) direct shear", "Kavazanjian et al. (1999) simple shear", "Pelkey (1997)", "Caicedo et al (2002)", "Mahler and Delamare Netto (2003)"],
                    "range": ["#000000", "#000000", "#ff0000", "#138a1b", "#f7861c", "#0b0b78", "#f0358e", "#000000", "#2b2f8f", "#8c8c55", "#0000ff", "#000000"]}},
                "shape": {"field": "series", "type": "nominal", "legend": null,
                  "scale": {"domain": ["Stoll (1971)", "Landva and Clark (1986, 1990)", "Siegel et al(1990)", "Withiam et al. (1995)", "Gabr and Valero (1995)", "Hcuston et al (1995)", "Vilar and Carvalho (2002)", "Kavazanjian et al. (1999) direct shear", "Kavazanjian et al. (1999) simple shear", "Pelkey (1997)", "Caicedo et al (2002)", "Mahler and Delamare Netto (2003)"],
                    "range": ["circle", "square", "diamond", "triangle-left", "triangle-right", "triangle-down", "M-1,-1L1,-1L1,1L-1,1Z M0,-1L0,1 M-1,0L1,0", "M0,-1L0.235,-0.324L0.951,-0.309L0.38,0.124L0.588,0.809L0,0.4L-0.588,0.809L-0.38,0.124L-0.951,-0.309L-0.235,-0.324Z", "square", "triangle-up", "diamond", "square"]}}
              }
            },
            {
              "transform": [{"filter": {"field": "series", "oneOf": ["Vilar and Carvalho (2002)", "Pelkey (1997)"]}}],
              "mark": {"type": "point", "filled": false, "size": 70, "opacity": 1, "strokeWidth": 1.1, "fill": "#ffffff"},
              "encoding": {
                "x": {"datum": 58.3, "type": "quantitative"},
                "stroke": {"field": "series", "type": "nominal", "legend": null,
                  "scale": {"domain": ["Vilar and Carvalho (2002)", "Pelkey (1997)"], "range": ["#f0358e", "#8c8c55"]}},
                "shape": {"field": "series", "type": "nominal", "legend": null}
              }
            },
            {
              "mark": {"type": "text", "align": "left", "baseline": "middle", "font": "Liberation Sans", "fontSize": 13, "color": "#111111"},
              "encoding": {
                "x": {"datum": 81.6, "type": "quantitative"},
                "text": {"field": "series"}
              }
            }
          ]
        }
      ]
    }
  ]
}
